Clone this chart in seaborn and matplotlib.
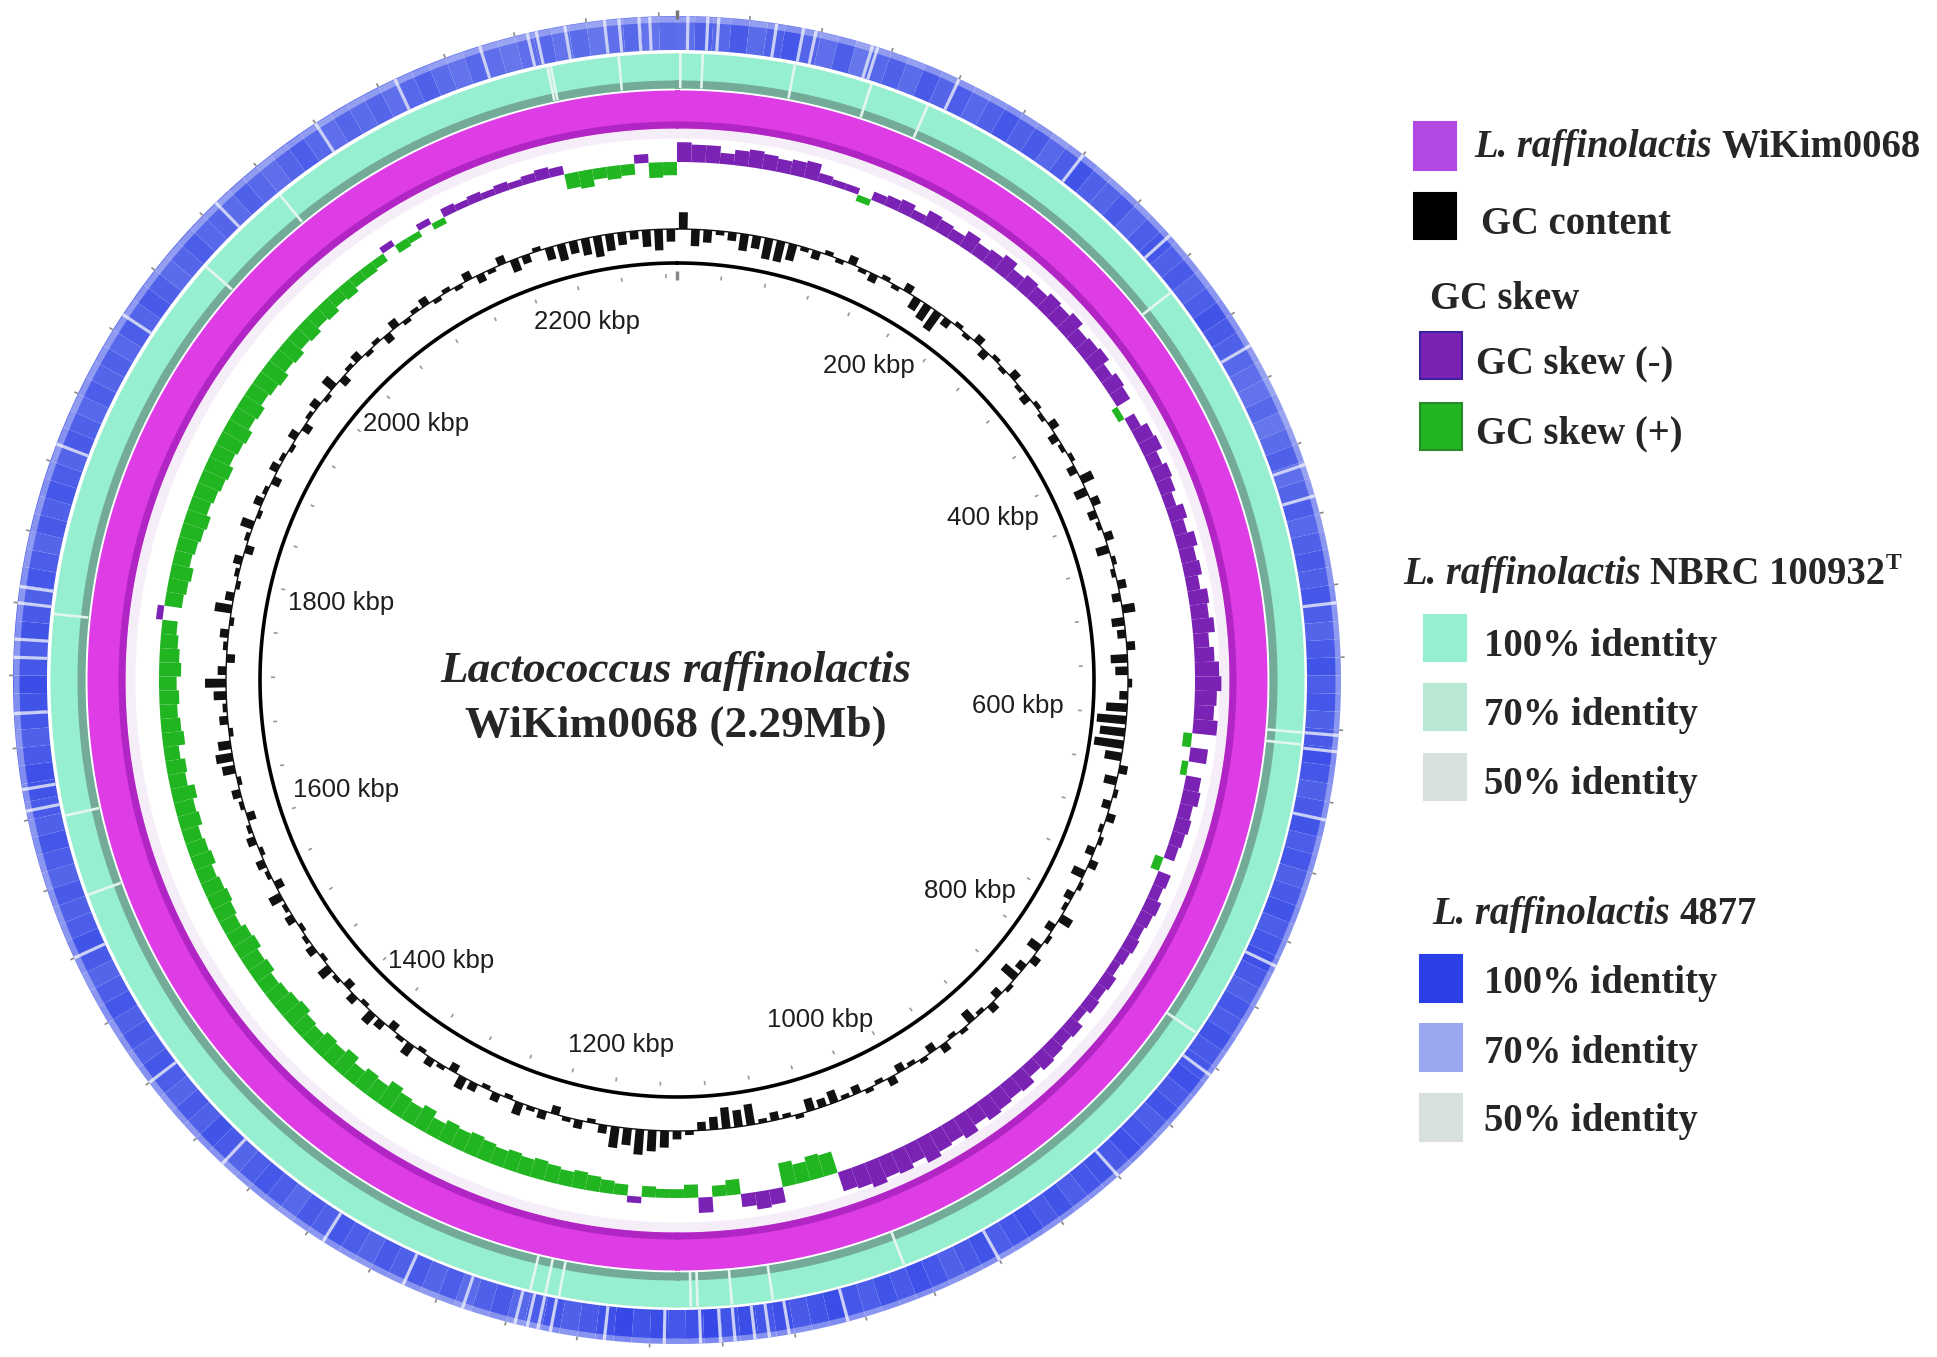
import numpy as np
import matplotlib
matplotlib.use("Agg")
import matplotlib.pyplot as plt
import seaborn as sns
from matplotlib.patches import Rectangle
from matplotlib.colors import to_rgb

sns.set_theme(style="white")
plt.rcParams['font.family'] = ['Liberation Serif', 'DejaVu Serif']

# ---------------- data ----------------
GENOME_KBP = 2290
BIN_KBP = 10

# GC skew per 10 kbp window (negative = purple, positive = green)
gc_skew = [
    -0.09, -0.08, -0.08, -0.05, -0.07, -0.08, -0.07, -0.06, -0.07, -0.08,
    -0.04, -0.03, -0.03, 0.03, -0.04, -0.05, -0.06, -0.04, -0.07, -0.06,
    -0.05, -0.08, -0.06, -0.07, -0.09, -0.06, -0.08, -0.07, -0.09, -0.08,
    -0.10, -0.07, -0.08, -0.09, -0.06, -0.08, -0.07, 0.03, -0.05, -0.08,
    -0.09, -0.06, -0.08, -0.07, -0.05, -0.08, -0.06, -0.09, -0.07, -0.08,
    -0.06, -0.09, -0.08, -0.10, -0.07, -0.09, -0.11, -0.12, -0.10, -0.09,
    -0.11, 0.04, -0.08, 0.03, -0.07, -0.08, -0.06, -0.07, -0.06, -0.05,
    0.04, -0.06, -0.05, -0.07, -0.06, -0.05, -0.06, -0.05, -0.04, -0.06,
    -0.05, -0.06, -0.04, -0.07, -0.06, -0.07, -0.08, -0.06, -0.09, -0.08,
    -0.09, -0.10, -0.08, -0.11, -0.09, -0.10, -0.12, -0.09, -0.11, -0.10,
    -0.12, -0.10, -0.09, 0.10, 0.11, 0.09, 0.11, -0.07, -0.08, -0.06,
    0.07, 0.05, -0.07, 0.06, 0.04, 0.04, 0.05, -0.03, 0.05, 0.06,
    0.07, 0.08, 0.07, 0.08, 0.09, 0.08, 0.09, 0.08, 0.09, 0.10,
    0.09, 0.10, 0.08, 0.11, 0.09, 0.10, 0.12, 0.09, 0.10, 0.08,
    0.11, 0.09, 0.10, 0.08, 0.09, 0.11, 0.10, 0.09, 0.08, 0.10,
    0.09, 0.11, 0.10, 0.08, 0.09, 0.10, 0.09, 0.08, 0.10, 0.09,
    0.08, 0.10, 0.09, 0.11, 0.08, 0.09, 0.07, 0.10, 0.09, 0.08,
    0.09, 0.08, 0.10, 0.09, 0.08, 0.07, -0.03, 0.08, 0.09, 0.10,
    0.08, 0.09, 0.10, 0.11, 0.09, 0.10, 0.11, 0.12, 0.10, 0.11,
    0.12, 0.10, 0.11, 0.09, 0.10, 0.11, 0.09, 0.10, 0.08, 0.09,
    0.07, 0.08, 0.06, 0.07, 0.05, 0.05, 0.04, -0.03, 0.04, 0.03,
    -0.03, 0.03, -0.04, -0.03, -0.04, -0.03, -0.04, -0.03, -0.04, -0.05,
    -0.04, 0.07, 0.08, 0.05, 0.06, 0.05, -0.04, 0.07, 0.06,
]

# GC content deviation from genome mean (%) per 10 kbp window
gc_dev = [
    4, -4, -3, -1, -2, -4, -3, -5, -5, -4,
    -1, -2, 1, -1, 2, -1, -2, 1, -1, 2,
    -3, -4, -5, -2, 1, -1, 2, -2, 1, -1,
    2, -1, -2, 1, -1, 2, -2, -1, 1, -2,
    3, -3, 2, -2, -1, 2, -3, 1, -1, 2,
    -2, 3, -3, -2, 2, -4, -3, 1, -2, -5,
    -7, -6, -7, -4, 2, -3, 1, -2, 2, -1,
    1, -2, 2, -3, 1, -2, -1, 3, -2, 1,
    -3, 2, -2, -4, 1, -2, 2, -1, -3, 1,
    -1, 2, -2, 1, -1, -2, 2, -1, 1, -2,
    -1, -3, -2, -3, 1, -1, -2, -1, -5, -4,
    -5, -3, -2, 1, 2, 4, 5, 6, 4, 5,
    2, -1, 2, 1, -2, 2, 1, 3, -1, 2,
    -1, 2, 3, -2, 1, 2, -1, 3, 1, -2,
    2, 3, -1, 2, -2, 1, 3, -1, 2, 1,
    -1, 2, 1, 3, -2, 1, 2, -1, 2, 1,
    -2, 1, 2, -1, 3, 4, 3, -1, 2, 1,
    3, 5, 2, -2, 1, 2, -1, 4, 2, -1,
    1, 2, -2, 1, 3, -1, 2, 1, -2, 2,
    1, -1, 2, -2, 1, 2, -1, 3, -2, 1,
    2, -1, 1, -2, 2, -1, 1, 2, -1, 1,
    -1, 2, -2, -1, 2, -3, -2, 1, -3, -4,
    -3, -4, -5, -4, -3, -2, -4, -5, -3,
]

# BLAST identity (%) of L. raffinolactis 4877 per 10 kbp window
blue_identity = [
    86, 90, 88, 92, 87, 90, 93, 89, 86, 91,
    84, 88, 90, 87, 92, 89, 91, 88, 90, 93,
    90, 92, 88, 91, 94, 90, 89, 92, 88, 91,
    93, 90, 92, 89, 91, 94, 92, 90, 88, 86,
    85, 88, 84, 87, 90, 86, 89, 91, 88, 90,
    92, 90, 93, 91, 89, 92, 94, 91, 93, 90,
    92, 95, 93, 90, 92, 94, 91, 93, 90, 92,
    94, 91, 93, 95, 92, 90, 93, 91, 94, 92,
    93, 95, 92, 94, 91, 93, 95, 92, 94, 93,
    91, 94, 92, 95, 93, 91, 94, 92, 90, 93,
    95, 92, 94, 91, 93, 96, 94, 92, 95, 93,
    96, 94, 97, 95, 93, 96, 94, 97, 95, 92,
    90, 93, 91, 88, 92, 90, 87, 91, 89, 92,
    90, 92, 89, 91, 93, 90, 92, 88, 91, 93,
    91, 89, 92, 94, 90, 92, 89, 91, 93, 90,
    92, 90, 93, 91, 89, 92, 94, 91, 90, 92,
    89, 91, 93, 90, 92, 94, 95, 92, 90, 93,
    94, 96, 93, 91, 94, 92, 90, 93, 91, 89,
    92, 90, 93, 91, 89, 92, 90, 88, 91, 89,
    90, 88, 91, 89, 92, 90, 87, 89, 91, 88,
    89, 87, 90, 88, 86, 89, 91, 88, 86, 89,
    87, 89, 86, 88, 90, 87, 85, 88, 86, 84,
    86, 88, 85, 87, 84, 86, 88, 85, 87,
]

# positions (kbp) of short low-identity stretches (light stripes)
blue_gaps_kbp = [6, 17, 23, 55, 70, 77, 109, 112, 160, 240, 305, 380, 452, 470,
                 530, 603, 612, 650, 735, 805, 880, 960, 1050, 1083, 1094, 1102,
                 1113, 1121, 1132, 1152, 1185, 1215, 1222, 1228, 1235, 1265, 1300,
                 1350, 1420, 1480, 1560, 1645, 1657, 1699, 1730, 1740, 1760, 1769,
                 1850, 1930, 2010, 2080, 2130, 2180, 2207, 2212, 2228, 2250, 2258,
                 2269, 2275]
teal_gaps_kbp = [2, 15, 69, 115, 150, 330, 603, 610, 790, 1010, 1089, 1113, 1133,
                 1137, 1214, 1222, 1231, 1590, 1638, 1756, 1980, 2040, 2214, 2216,
                 2256]

kbp_ticks = [200, 400, 600, 800, 1000, 1200, 1400, 1600, 1800, 2000, 2200]
kbp_tick_labels = [f"{k} kbp" for k in kbp_ticks]

# legend colours
COL_WIKIM = '#b448e3'
COL_RING = '#de3de6'
COL_SKEW_NEG = '#7a22b4'
COL_SKEW_POS = '#22b522'
TEAL_PAL = ['#d6e0dc', '#b8e8d4', '#96efcf']   # 50, 70, 100 %
BLUE_PAL = ['#d8e0dc', '#9aa6f0', '#2b3fe6']   # 50, 70, 100 %
identity_levels = [50, 70, 100]


def identity_colors(values, pal):
    c = np.array([to_rgb(p) for p in pal])
    v = np.clip(np.asarray(values, float), 50, 100)
    return np.stack([np.interp(v, identity_levels, c[:, i]) for i in range(3)], 1)


# ---------------- figure ----------------
W, H = 1937, 1357
CX, CY, R = 677, 680, 677
fig = plt.figure(figsize=(W / 100, H / 100), dpi=100)
ax = fig.add_axes([(CX - R) / W, (H - CY - R) / H, 2 * R / W, 2 * R / H],
                  projection='polar')
ax.set_theta_zero_location('N')
ax.set_theta_direction(-1)
ax.set_ylim(0, R)
ax.set_axis_off()


def th(kbp):
    return 2 * np.pi * np.asarray(kbp, float) / GENOME_KBP


full = np.linspace(0, 2 * np.pi, 1441)


def ring(r0, r1, color, **kw):
    ax.fill_between(full, r0, r1, color=color, linewidth=0, **kw)


R_INNER = 417
R_GC = 451
R_SKEW = 518
MAG = (552, 590)
TEAL = (592, 627)
TEAL_DARK = (592, 600)
BLUE = (630, 664)
GC_SCALE = 4.2
SK_SCALE = 220

n = len(gc_skew)
bin_start = np.arange(n) * BIN_KBP
widths = np.minimum(BIN_KBP, GENOME_KBP - bin_start)

# blue ring (4877)
ax.bar(th(bin_start), BLUE[1] - BLUE[0], width=th(widths), bottom=BLUE[0],
       align='edge', color=identity_colors(blue_identity, BLUE_PAL), linewidth=0)
ax.bar(th(blue_gaps_kbp), BLUE[1] - BLUE[0], width=th(1.8), bottom=BLUE[0],
       align='center', color='#c9cff5', linewidth=0)
ring(BLUE[1] - 6, BLUE[1], 'white', alpha=0.35)

# teal ring (NBRC 100932)
ring(TEAL[0], TEAL[1], identity_colors([100], TEAL_PAL)[0])
ring(TEAL_DARK[0], TEAL_DARK[1], '#74aa98')
ax.bar(th(teal_gaps_kbp), TEAL[1] - TEAL[0], width=th(1.6), bottom=TEAL[0],
       align='center', color='#e2f6ee', linewidth=0)

# magenta reference ring
ring(MAG[0], MAG[1], COL_RING)
ring(MAG[0], MAG[0] + 7, '#a81fbd', alpha=0.8)
ring(MAG[0] - 10, MAG[0], '#caa0dd', alpha=0.18)

# GC skew
sk = np.array(gc_skew)
ax.bar(th(bin_start), -sk * SK_SCALE, width=th(widths), bottom=R_SKEW,
       align='edge', color=[COL_SKEW_NEG if v < 0 else COL_SKEW_POS for v in sk],
       linewidth=0)

# GC content (drawn as narrow spikes on a baseline)
gc = np.array(gc_dev, float)
ax.bar(th(bin_start + widths / 2), gc * GC_SCALE, width=th(widths * 0.7),
       bottom=R_GC, align='center', color='#111111', linewidth=0)
ax.plot(full, np.full_like(full, R_GC), color='#111111', lw=1.0)

# inner circle and ticks
ax.plot(full, np.full_like(full, R_INNER), color='black', lw=2.6)
tick_kbp = np.arange(0, GENOME_KBP, 40)
ax.vlines(th(tick_kbp), 664, 668, color='#8a8a8a', lw=1.2)
ax.vlines(th(tick_kbp), 402, 406, color='#999999', lw=1.2)
ax.vlines(th([0]), 661, 670, color='#777777', lw=2.5)
ax.vlines(th([0]), 400, 409, color='#888888', lw=2.5)

for k, lab in zip(kbp_ticks, kbp_tick_labels):
    t = th(k)
    r = 369 - 28 * np.abs(np.sin(t)) ** 6
    ax.text(t, r, lab, ha='center', va='center', fontsize=18.5,
            family=['Liberation Sans', 'DejaVu Sans'], color='#1e1e1e')

# ---------------- overlay: title & legend ----------------
lax = fig.add_axes([0, 0, 1, 1])
lax.set_xlim(0, W)
lax.set_ylim(H, 0)
lax.set_axis_off()
lax.patch.set_alpha(0)

TFS = 32.6
lax.text(676, 682, "Lactococcus raffinolactis", ha='center', va='baseline',
         style='italic', weight='bold', size=TFS)
lax.text(676, 737, "WiKim0068 (2.29Mb)", ha='center', va='baseline',
         weight='bold', size=TFS)

renderer = fig.canvas.get_renderer()
LFS = 27.8


def runs(x, y, parts):
    for txt, kw in parts:
        if txt == ' ':
            x += 0.25 * LFS * 100 / 72
            continue
        t = lax.text(x, y + kw.pop('dy', 0), txt, ha='left', va='baseline',
                     weight='bold', size=kw.pop('size', LFS), **kw)
        x += t.get_window_extent(renderer).width


def square(x, y, w, h, fc, ec=None):
    lax.add_patch(Rectangle((x, y), w, h, facecolor=fc,
                            edgecolor=ec if ec else fc, lw=1.5))


square(1414, 122, 42, 48, COL_WIKIM)
runs(1474, 157, [("L. raffinolactis", {'style': 'italic'}), (' ', {}),
                 ("WiKim0068", {})])
square(1414, 193, 42, 46, 'black')
runs(1481, 234, [("GC content", {})])
runs(1430, 309, [("GC skew", {})])
square(1420, 332, 42, 47, COL_SKEW_NEG, '#3a22a0')
runs(1476, 373, [("GC skew (-)", {})])
square(1420, 403, 42, 47, COL_SKEW_POS, '#2a8a2a')
runs(1476, 443, [("GC skew (+)", {})])

runs(1403, 584, [("L. raffinolactis", {'style': 'italic'}), (' ', {}),
                 ("NBRC 100932", {}), ("T", {'size': 17, 'dy': -15})])
for (y_sq, y_txt), col, lev in zip([(615, 656), (684, 725), (754, 794)],
                                   TEAL_PAL[::-1], identity_levels[::-1]):
    square(1424, y_sq, 42, 46, col)
    runs(1484, y_txt, [(f"{lev}% identity", {})])

runs(1432, 924, [("L. raffinolactis", {'style': 'italic'}), (' ', {}),
                 ("4877", {})])
for (y_sq, y_txt), col, lev in zip([(955, 993), (1024, 1063), (1094, 1131)],
                                   BLUE_PAL[::-1], identity_levels[::-1]):
    square(1420, y_sq, 42, 47, col)
    runs(1484, y_txt, [(f"{lev}% identity", {})])

fig.savefig("out.png", dpi=100, facecolor='white')
